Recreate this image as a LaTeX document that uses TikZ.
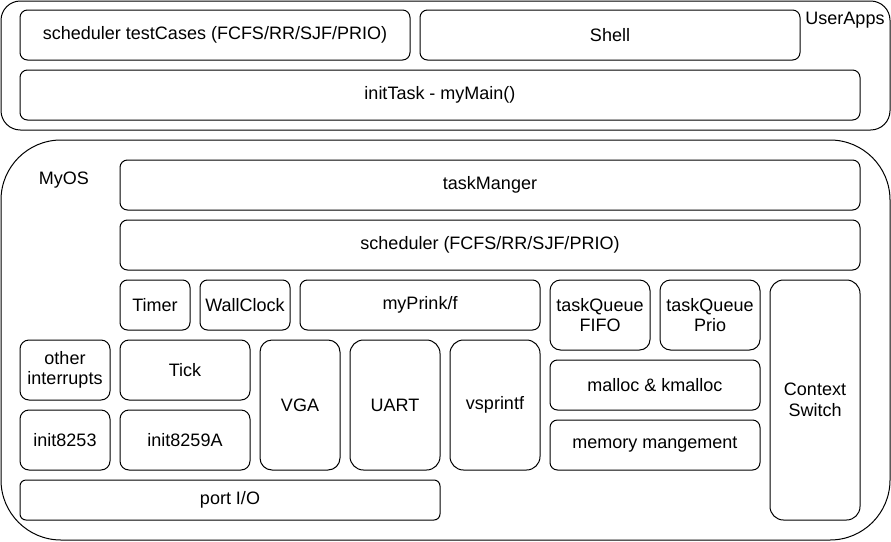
\documentclass[tikz,border=0pt]{standalone}
\usepackage{fontspec}
\setmainfont{Liberation Sans}
\tikzset{
  blk/.style={draw=black, line width=1pt, inner sep=0pt, align=center, fill=white},
  lbl/.style={inner sep=0pt, align=center}
}
\newcommand\myblk[6]{%
  \pgfmathsetmacro\bw{#4-#2}%
  \pgfmathsetmacro\bh{#5-#3}%
  \pgfmathsetmacro\br{0.15*min(\bw,\bh)}%
  \node[blk, minimum width=\bw pt, minimum height=\bh pt, rounded corners=\br pt] (#1) at ({(#2+#4)/2},{(#3+#5)/2}) {#6};}
\begin{document}
\begin{tikzpicture}[x=1pt,y=-1pt,font=\fontsize{18pt}{20.5pt}\selectfont]
\useasboundingbox (0,0) rectangle (891,541);
\fill[white] (0,0) rectangle (891,541);
% containers
\myblk{userapps}{1}{1}{890}{130}{}
\myblk{myos}{1}{140}{890}{540}{}
\node[lbl] (ualbl) at (845,20) {UserApps};
\node[lbl] (oslbl) at (64,180) {MyOS};
% user apps
\myblk{tests}{20}{10}{410}{60}{scheduler testCases (FCFS/RR/SJF/PRIO)}
\myblk{shell}{420}{10}{800}{60}{Shell}
\myblk{init}{20}{70}{860}{120}{initTask - myMain()}
% os
\myblk{tm}{120}{160}{860}{210}{taskManger}
\myblk{sched}{120}{220}{860}{270}{scheduler (FCFS/RR/SJF/PRIO)}
\myblk{timer}{120}{280}{190}{330}{Timer}
\myblk{wall}{200}{280}{290}{330}{WallClock}
\myblk{prink}{300}{280}{540}{330}{myPrink/f}
\myblk{tqf}{550}{280}{650}{350}{taskQueue\\FIFO}
\myblk{tqp}{660}{280}{760}{350}{taskQueue\\Prio}
\myblk{ctx}{770}{280}{860}{520}{Context\\Switch}
\myblk{oth}{20}{340}{110}{400}{other\\interrupts}
\myblk{tick}{120}{340}{250}{400}{Tick}
\myblk{vga}{260}{340}{340}{470}{VGA}
\myblk{uart}{350}{340}{440}{470}{UART}
\myblk{vsp}{450}{340}{540}{470}{vsprintf}
\myblk{mal}{550}{360}{760}{410}{malloc \& kmalloc}
\myblk{mem}{550}{420}{760}{470}{memory mangement}
\myblk{i8253}{20}{410}{110}{470}{init8253}
\myblk{i8259}{120}{410}{250}{470}{init8259A}
\myblk{pio}{20}{480}{440}{520}{port I/O}
\end{tikzpicture}
\end{document}
